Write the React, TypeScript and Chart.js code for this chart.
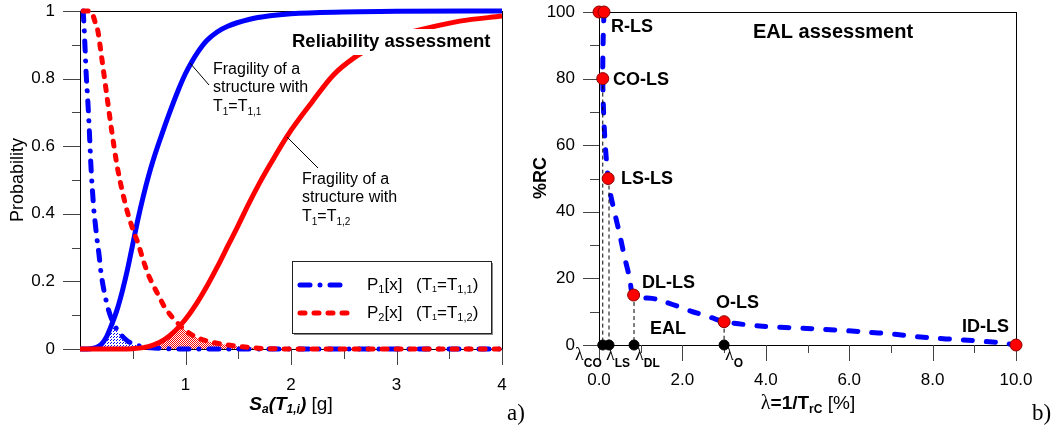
import React, { useEffect, useRef } from 'react';
import { Chart, registerables } from 'chart.js';

Chart.register(...registerables);

const SANS = "'Liberation Sans', Arial, Helvetica, sans-serif";
const SERIF = "'Liberation Serif', 'Times New Roman', serif";

// ---------------- Panel a) Reliability assessment ----------------
const FRAG1_X = [0, 0.1, 0.15, 0.2, 0.25, 0.3, 0.35, 0.4, 0.45, 0.5, 0.55, 0.6, 0.65, 0.7, 0.77, 0.85, 0.93, 1.0, 1.06, 1.12, 1.2, 1.3, 1.4, 1.6, 1.8, 2.0, 2.5, 3.0, 4.0];
const FRAG1_Y = [0, 0.001, 0.004, 0.013, 0.035, 0.072, 0.115, 0.17, 0.235, 0.31, 0.385, 0.452, 0.512, 0.565, 0.63, 0.7, 0.765, 0.815, 0.85, 0.88, 0.912, 0.938, 0.955, 0.975, 0.986, 0.992, 0.997, 0.999, 1.0];

const FRAG2_X = [0, 0.4, 0.5, 0.6, 0.7, 0.8, 0.9, 1.0, 1.1, 1.2, 1.3, 1.4, 1.5, 1.6, 1.7, 1.8, 1.97, 2.2, 2.4, 2.6, 2.8, 3.0, 3.3, 3.6, 4.0];
const FRAG2_Y = [0, 0, 0.001, 0.004, 0.012, 0.028, 0.053, 0.088, 0.132, 0.184, 0.242, 0.304, 0.366, 0.43, 0.49, 0.545, 0.633, 0.731, 0.81, 0.862, 0.898, 0.925, 0.95, 0.97, 0.985];

const P1_X = [0.03, 0.04, 0.05, 0.06, 0.07, 0.08, 0.09, 0.1, 0.11, 0.12, 0.13, 0.14, 0.16, 0.18, 0.2, 0.25, 0.3, 0.35, 0.4, 0.45, 0.5, 0.55, 0.6, 0.7, 0.8, 0.9, 1.0, 1.5, 2.0, 2.5, 3.0, 3.5, 4.0];
const P1_Y = [1.0, 0.945, 0.875, 0.805, 0.755, 0.7, 0.635, 0.565, 0.505, 0.46, 0.416, 0.385, 0.328, 0.28, 0.224, 0.14, 0.088, 0.058, 0.038, 0.024, 0.015, 0.01, 0.006, 0.003, 0.001, 0, 0, 0, 0, 0, 0, 0, 0];

const P2_X = [0.03, 0.1, 0.12, 0.15, 0.17, 0.2, 0.25, 0.3, 0.35, 0.4, 0.45, 0.5, 0.55, 0.6, 0.65, 0.7, 0.75, 0.8, 0.9, 1.0, 1.1, 1.2, 1.3, 1.4, 1.5, 1.6, 1.7, 1.8, 2.0, 2.5, 3.0, 3.5, 4.0];
const P2_Y = [1.0, 1.0, 0.99, 0.96, 0.94, 0.875, 0.76, 0.647, 0.545, 0.468, 0.405, 0.355, 0.313, 0.262, 0.218, 0.185, 0.155, 0.125, 0.085, 0.055, 0.035, 0.024, 0.017, 0.012, 0.008, 0.005, 0.002, 0.001, 0, 0, 0, 0, 0];

const HATCH1_X = [0.2, 0.25, 0.3, 0.32, 0.35, 0.4, 0.45, 0.5, 0.55, 0.6];
const HATCH1_Y = [0.012, 0.034, 0.07, 0.074, 0.058, 0.038, 0.024, 0.015, 0.009, 0.005];
const HATCH2_X = [0.7, 0.8, 0.9, 0.96, 1.0, 1.1, 1.2, 1.3, 1.4, 1.5, 1.6, 1.7];
const HATCH2_Y = [0.012, 0.028, 0.053, 0.068, 0.055, 0.035, 0.024, 0.017, 0.012, 0.008, 0.005, 0.002];

const A_X_TICKS = [1, 2, 3, 4];
const A_X_MINOR = [0.5, 1.5, 2.5, 3.5];
const A_Y_TICKS = [0, 0.2, 0.4, 0.6, 0.8, 1];
const A_Y_MINOR = [0.1, 0.3, 0.5, 0.7, 0.9];

// ---------------- Panel b) EAL assessment ----------------
const LS_NAMES = ['R-LS', 'CO-LS', 'LS-LS', 'DL-LS', 'O-LS', 'ID-LS'];
const MARK_X = [0.0, 0.12, 0.09, 0.22, 0.83, 3.0, 10.0];
const MARK_Y = [100, 100, 80, 50, 15, 7, 0];
const LAMBDA_NAMES = ['CO', 'LS', 'DL', 'O'];
const LAMBDA_X = [0.09, 0.24, 0.84, 3.0];
const LAMBDA_RC = [80, 50, 15, 7];
const CURVE_X = [0.12, 0.1, 0.09, 0.11, 0.15, 0.22, 0.28, 0.37, 0.5, 0.62, 0.74, 0.83, 1.4, 2.2, 2.7, 3.0, 3.85, 5.1, 6.3, 7.1, 7.9, 8.75, 9.6, 10];
const CURVE_Y = [100, 92, 80, 70, 60, 50, 45, 40, 33, 26, 20, 15, 13.7, 10.2, 8.2, 7, 5.7, 4.9, 4.0, 3.2, 2.2, 1.5, 0.7, 0];

const B_X_TICKS = [0, 2, 4, 6, 8, 10];
const B_X_MINOR = [1, 3, 5, 7, 9];
const B_Y_TICKS = [0, 20, 40, 60, 80, 100];
const B_Y_MINOR = [10, 30, 50, 70, 90];

const pts = (xs: number[], ys: number[]) => xs.map((x, i) => ({ x, y: ys[i] }));
const f = (size: number, weight = 'normal', style = 'normal', fam = SANS) => `${style} ${weight} ${size}px ${fam}`;

type Seg = { t: string; font: string; dy?: number };

function drawRich(ctx: CanvasRenderingContext2D, segs: Seg[], x: number, y: number, align: 'left' | 'center' = 'left') {
  ctx.save();
  ctx.textAlign = 'left';
  ctx.textBaseline = 'middle';
  let total = 0;
  const widths = segs.map((s) => {
    ctx.font = s.font;
    const w = ctx.measureText(s.t).width;
    total += w;
    return w;
  });
  let cx = align === 'center' ? x - total / 2 : x;
  segs.forEach((s, i) => {
    ctx.font = s.font;
    ctx.fillText(s.t, cx, y + (s.dy || 0));
    cx += widths[i];
  });
  ctx.restore();
}

function drawRotated(ctx: CanvasRenderingContext2D, text: string, font: string, cx: number, cy: number) {
  ctx.save();
  ctx.translate(cx, cy);
  ctx.rotate(-Math.PI / 2);
  ctx.font = font;
  ctx.textAlign = 'center';
  ctx.textBaseline = 'middle';
  ctx.fillStyle = '#000';
  ctx.fillText(text, 0, 0);
  ctx.restore();
}

function drawFrame(chart: any) {
  const { ctx, chartArea: a } = chart;
  ctx.save();
  ctx.strokeStyle = '#000';
  ctx.lineWidth = 1;
  ctx.strokeRect(Math.round(a.left) + 0.5, Math.round(a.top) + 0.5, Math.round(a.right - a.left), Math.round(a.bottom - a.top));
  ctx.restore();
}

function drawTicks(chart: any, specs: { axis: 'x' | 'y'; values: number[]; len: number }[]) {
  const { ctx, chartArea: a, scales } = chart;
  ctx.save();
  ctx.strokeStyle = '#444';
  ctx.lineWidth = 1;
  ctx.beginPath();
  specs.forEach((s) => {
    s.values.forEach((v) => {
      if (s.axis === 'x') {
        const px = Math.round(scales.x.getPixelForValue(v)) + 0.5;
        ctx.moveTo(px, Math.round(a.bottom));
        ctx.lineTo(px, Math.round(a.bottom) + s.len);
      } else {
        const py = Math.round(scales.y.getPixelForValue(v)) + 0.5;
        ctx.moveTo(Math.round(a.left), py);
        ctx.lineTo(Math.round(a.left) - s.len, py);
      }
    });
  });
  ctx.stroke();
  ctx.restore();
}

function makePattern(fg: string, bg: string, cells: [number, number][], size: number) {
  const c = document.createElement('canvas');
  c.width = size;
  c.height = size;
  const g = c.getContext('2d')!;
  g.fillStyle = bg;
  g.fillRect(0, 0, size, size);
  g.fillStyle = fg;
  cells.forEach(([x, y]) => g.fillRect(x, y, 1, 1));
  return g.createPattern(c, 'repeat')!;
}

const noPad = (s: any) => {
  s.paddingTop = 0;
  s.paddingBottom = 0;
  s.paddingLeft = 0;
  s.paddingRight = 0;
};

const DASHDOT = [10, 10, 0.01, 10];
const DOTTED = [5, 9];

function PanelA() {
  const ref = useRef<HTMLCanvasElement>(null);
  useEffect(() => {
    const canvas = ref.current!;
    const blueHatch = makePattern('#0000ff', '#ffffff', [[0, 0], [2, 1]], 3);
    const redHatch = makePattern('#ff0000', '#ffffff', [[0, 0], [1, 1]], 2);
    const base = { pointRadius: 0, fill: false, clip: false as any, cubicInterpolationMode: 'monotone' as const };
    const deco = {
      id: 'decoA',
      beforeDatasetsDraw(chart: any) {
        drawFrame(chart);
        drawTicks(chart, [
          { axis: 'x', values: A_X_TICKS, len: 16 },
          { axis: 'x', values: A_X_MINOR, len: 10 },
          { axis: 'y', values: A_Y_TICKS, len: 17 },
          { axis: 'y', values: A_Y_MINOR, len: 8 },
        ]);
      },
      afterDatasetsDraw(chart: any) {
        const ctx: CanvasRenderingContext2D = chart.ctx;
        ctx.save();
        const titleFont = f(18.5, 'bold');
        ctx.font = titleFont;
        const tw = ctx.measureText('Reliability assessment').width;
        ctx.fillStyle = '#fff';
        ctx.fillRect(289, 29, tw + 6, 26);
        ctx.fillStyle = '#000';
        drawRich(ctx, [{ t: 'Reliability assessment', font: titleFont }], 292, 42);
        const r16 = f(16);
        const s10 = f(10);
        drawRich(ctx, [{ t: 'Fragility of a', font: r16 }], 213, 70);
        drawRich(ctx, [{ t: 'structure with', font: r16 }], 213, 88);
        drawRich(ctx, [{ t: 'T', font: r16 }, { t: '1', font: s10, dy: 5 }, { t: '=T', font: r16 }, { t: '1,1', font: s10, dy: 5 }], 213, 107);
        drawRich(ctx, [{ t: 'Fragility of a', font: r16 }], 302, 180);
        drawRich(ctx, [{ t: 'structure with', font: r16 }], 302, 198);
        drawRich(ctx, [{ t: 'T', font: r16 }, { t: '1', font: s10, dy: 5 }, { t: '=T', font: r16 }, { t: '1,2', font: s10, dy: 5 }], 302, 217);
        ctx.strokeStyle = '#000';
        ctx.lineWidth = 1;
        ctx.beginPath();
        ctx.moveTo(190, 63);
        ctx.lineTo(209, 85);
        ctx.moveTo(287, 137);
        ctx.lineTo(318, 168);
        ctx.stroke();
        const lx = 292, ly = 261, lw = 199, lh = 72;
        ctx.fillStyle = '#888';
        ctx.fillRect(lx + 2, ly + 2, lw, lh);
        ctx.fillStyle = '#fff';
        ctx.fillRect(lx, ly, lw, lh);
        ctx.strokeStyle = '#222';
        ctx.strokeRect(lx + 0.5, ly + 0.5, lw, lh);
        ctx.lineWidth = 5;
        ctx.lineCap = 'round';
        ctx.strokeStyle = '#0000ff';
        ctx.setLineDash(DASHDOT);
        ctx.beginPath();
        ctx.moveTo(300, 285);
        ctx.lineTo(350, 285);
        ctx.stroke();
        ctx.strokeStyle = '#ff0000';
        ctx.setLineDash(DOTTED);
        ctx.beginPath();
        ctx.moveTo(300, 313);
        ctx.lineTo(352, 313);
        ctx.stroke();
        ctx.setLineDash([]);
        ctx.fillStyle = '#000';
        const r17 = f(17);
        const s11 = f(11);
        drawRich(ctx, [{ t: 'P', font: r17 }, { t: '1', font: s11, dy: 5 }, { t: '[x]', font: r17 }], 367, 285);
        drawRich(ctx, [{ t: '(T', font: r17 }, { t: '1', font: f(9), dy: 5 }, { t: '=T', font: r17 }, { t: '1,1', font: s11, dy: 5 }, { t: ')', font: r17 }], 416, 285);
        drawRich(ctx, [{ t: 'P', font: r17 }, { t: '2', font: s11, dy: 5 }, { t: '[x]', font: r17 }], 367, 313);
        drawRich(ctx, [{ t: '(T', font: r17 }, { t: '1', font: f(9), dy: 5 }, { t: '=T', font: r17 }, { t: '1,2', font: s11, dy: 5 }, { t: ')', font: r17 }], 416, 313);
        drawRotated(ctx, 'Probability', f(18), 18, 180);
        const bi19 = f(19, 'bold', 'italic');
        const bi12 = f(12, 'bold', 'italic');
        drawRich(ctx, [
          { t: 'S', font: bi19 },
          { t: 'a', font: bi12, dy: 5 },
          { t: '(T', font: bi19 },
          { t: '1,i', font: bi12, dy: 5 },
          { t: ')', font: bi19 },
          { t: ' [g]', font: f(19) },
        ], 291, 405, 'center');
        ctx.font = `23px ${SERIF}`;
        ctx.textAlign = 'left';
        ctx.textBaseline = 'alphabetic';
        ctx.fillText('a)', 507, 420);
        ctx.restore();
      },
    };
    const chart = new Chart(canvas, {
      type: 'line',
      data: {
        datasets: [
          { ...base, label: 'hatch1', data: pts(HATCH1_X, HATCH1_Y), fill: 'origin', backgroundColor: blueHatch, borderWidth: 0, borderColor: 'rgba(0,0,0,0)', order: 10 },
          { ...base, label: 'hatch2', data: pts(HATCH2_X, HATCH2_Y), fill: 'origin', backgroundColor: redHatch, borderWidth: 0, borderColor: 'rgba(0,0,0,0)', order: 10 },
          { ...base, label: 'Fragility T1=T1,1', data: pts(FRAG1_X, FRAG1_Y), borderColor: '#0000ff', borderWidth: 5, order: 6 },
          { ...base, label: 'P1[x]', data: pts(P1_X, P1_Y), borderColor: '#0000ff', borderWidth: 5, borderDash: DASHDOT, borderCapStyle: 'round', order: 5 },
          { ...base, label: 'Fragility T1=T1,2', data: pts(FRAG2_X, FRAG2_Y), borderColor: '#ff0000', borderWidth: 5, order: 4 },
          { ...base, label: 'P2[x]', data: pts(P2_X, P2_Y), borderColor: '#ff0000', borderWidth: 5, borderDash: DOTTED, borderCapStyle: 'round', order: 3 },
        ] as any,
      },
      options: {
        responsive: false,
        animation: false,
        devicePixelRatio: 1,
        events: [],
        layout: { padding: { top: 11, right: 28, bottom: 0, left: 0 } },
        plugins: { legend: { display: false }, tooltip: { enabled: false } },
        scales: {
          x: {
            type: 'linear', min: 0, max: 4,
            grid: { display: false, drawTicks: false }, border: { display: false },
            afterBuildTicks: (s: any) => { s.ticks = A_X_TICKS.map((value) => ({ value })); },
            afterFit: (s: any) => { s.height = 79; noPad(s); },
            ticks: { padding: 26, color: '#000', font: { family: SANS, size: 17 }, maxRotation: 0, autoSkip: false, callback: (v: any) => String(v) },
          },
          y: {
            type: 'linear', min: 0, max: 1,
            grid: { display: false, drawTicks: false }, border: { display: false },
            afterBuildTicks: (s: any) => { s.ticks = A_Y_TICKS.map((value) => ({ value })); },
            afterFit: (s: any) => { s.width = 80; noPad(s); },
            ticks: { padding: 25, color: '#000', font: { family: SANS, size: 17 }, autoSkip: false, callback: (v: any) => String(v) },
          },
        },
      } as any,
      plugins: [deco],
    });
    return () => chart.destroy();
  }, []);
  return <canvas ref={ref} width={530} height={428} style={{ position: 'absolute', left: 0, top: 0, width: 530, height: 428 }} />;
}

function PanelB() {
  const ref = useRef<HTMLCanvasElement>(null);
  useEffect(() => {
    const canvas = ref.current!;
    const deco = {
      id: 'decoB',
      beforeDatasetsDraw(chart: any) {
        drawFrame(chart);
        drawTicks(chart, [
          { axis: 'x', values: B_X_TICKS, len: 16 },
          { axis: 'x', values: B_X_MINOR, len: 8 },
          { axis: 'y', values: B_Y_TICKS, len: 16 },
          { axis: 'y', values: B_Y_MINOR, len: 9 },
        ]);
      },
      afterDatasetsDraw(chart: any) {
        const ctx: CanvasRenderingContext2D = chart.ctx;
        ctx.save();
        ctx.fillStyle = '#000';
        const b18 = f(18, 'bold');
        const labelPos: [number, number][] = [[91, 27], [93, 80], [101, 179], [122, 283], [196, 303], [442, 327]];
        LS_NAMES.forEach((n, i) => drawRich(ctx, [{ t: n, font: b18 }], labelPos[i][0], labelPos[i][1]));
        drawRich(ctx, [{ t: 'EAL', font: b18 }], 130, 329);
        drawRich(ctx, [{ t: 'EAL assessment', font: f(20, 'bold') }], 233, 32);
        const lam = `18px ${SERIF}`;
        const sb = f(12, 'bold');
        const lamPos = [55, 86, 115, 205];
        LAMBDA_NAMES.forEach((n, i) => drawRich(ctx, [{ t: 'λ', font: lam }, { t: n, font: sb, dy: 9 }], lamPos[i], 355));
        drawRotated(ctx, '%RC', f(18, 'bold'), 21, 178);
        drawRich(ctx, [
          { t: 'λ', font: `20px ${SERIF}` },
          { t: '=1/T', font: f(19, 'bold') },
          { t: 'rC', font: f(12, 'bold'), dy: 6 },
          { t: ' [%]', font: f(19) },
        ], 288, 404, 'center');
        ctx.font = `23px ${SERIF}`;
        ctx.textAlign = 'left';
        ctx.textBaseline = 'alphabetic';
        ctx.fillText('b)', 512, 420);
        ctx.restore();
      },
    };
    const dropLines = LAMBDA_X.map((x, i) => ({
      label: 'drop ' + LAMBDA_NAMES[i],
      data: [{ x, y: LAMBDA_RC[i] }, { x, y: 0 }],
      borderColor: '#000', borderWidth: 1, borderDash: [4, 3], pointRadius: 0, fill: false, order: 4, clip: false,
    }));
    const chart = new Chart(canvas, {
      type: 'line',
      data: {
        datasets: [
          {
            label: 'curve', data: pts(CURVE_X, CURVE_Y), borderColor: '#0000ff', borderWidth: 5,
            borderDash: [9, 14], borderCapStyle: 'round', pointRadius: 0, fill: false, tension: 0.3, order: 5, clip: false,
          },
          ...dropLines,
          {
            label: 'limit states', data: pts(MARK_X, MARK_Y), showLine: false, pointRadius: 6,
            pointBackgroundColor: '#ff0000', pointBorderColor: '#8a0000', pointBorderWidth: 1, order: 1, clip: false,
          },
          {
            label: 'lambda', data: LAMBDA_X.map((x) => ({ x, y: 0 })), showLine: false, pointRadius: 5,
            pointBackgroundColor: '#000', pointBorderColor: '#000', pointBorderWidth: 1, order: 0, clip: false,
          },
        ] as any,
      },
      options: {
        responsive: false,
        animation: false,
        devicePixelRatio: 1,
        events: [],
        layout: { padding: { top: 12, right: 40, bottom: 0, left: 0 } },
        plugins: { legend: { display: false }, tooltip: { enabled: false } },
        scales: {
          x: {
            type: 'linear', min: 0, max: 10,
            grid: { display: false, drawTicks: false }, border: { display: false },
            afterBuildTicks: (s: any) => { s.ticks = B_X_TICKS.map((value) => ({ value })); },
            afterFit: (s: any) => { s.height = 83; noPad(s); },
            ticks: { padding: 25, color: '#000', font: { family: SANS, size: 17 }, maxRotation: 0, autoSkip: false, callback: (v: any) => Number(v).toFixed(1) },
          },
          y: {
            type: 'linear', min: 0, max: 100,
            grid: { display: false, drawTicks: false }, border: { display: false },
            afterBuildTicks: (s: any) => { s.ticks = B_Y_TICKS.map((value) => ({ value })); },
            afterFit: (s: any) => { s.width = 79; noPad(s); },
            ticks: { padding: 24, color: '#000', font: { family: SANS, size: 17 }, autoSkip: false, callback: (v: any) => String(v) },
          },
        },
      } as any,
      plugins: [deco],
    });
    return () => chart.destroy();
  }, []);
  return <canvas ref={ref} width={536} height={428} style={{ position: 'absolute', left: 520, top: 0, width: 536, height: 428 }} />;
}

export default function App() {
  return (
    <div style={{ position: 'fixed', left: 0, top: 0, width: 1056, height: 428, background: '#fff', overflow: 'hidden' }}>
      <PanelA />
      <PanelB />
    </div>
  );
}
